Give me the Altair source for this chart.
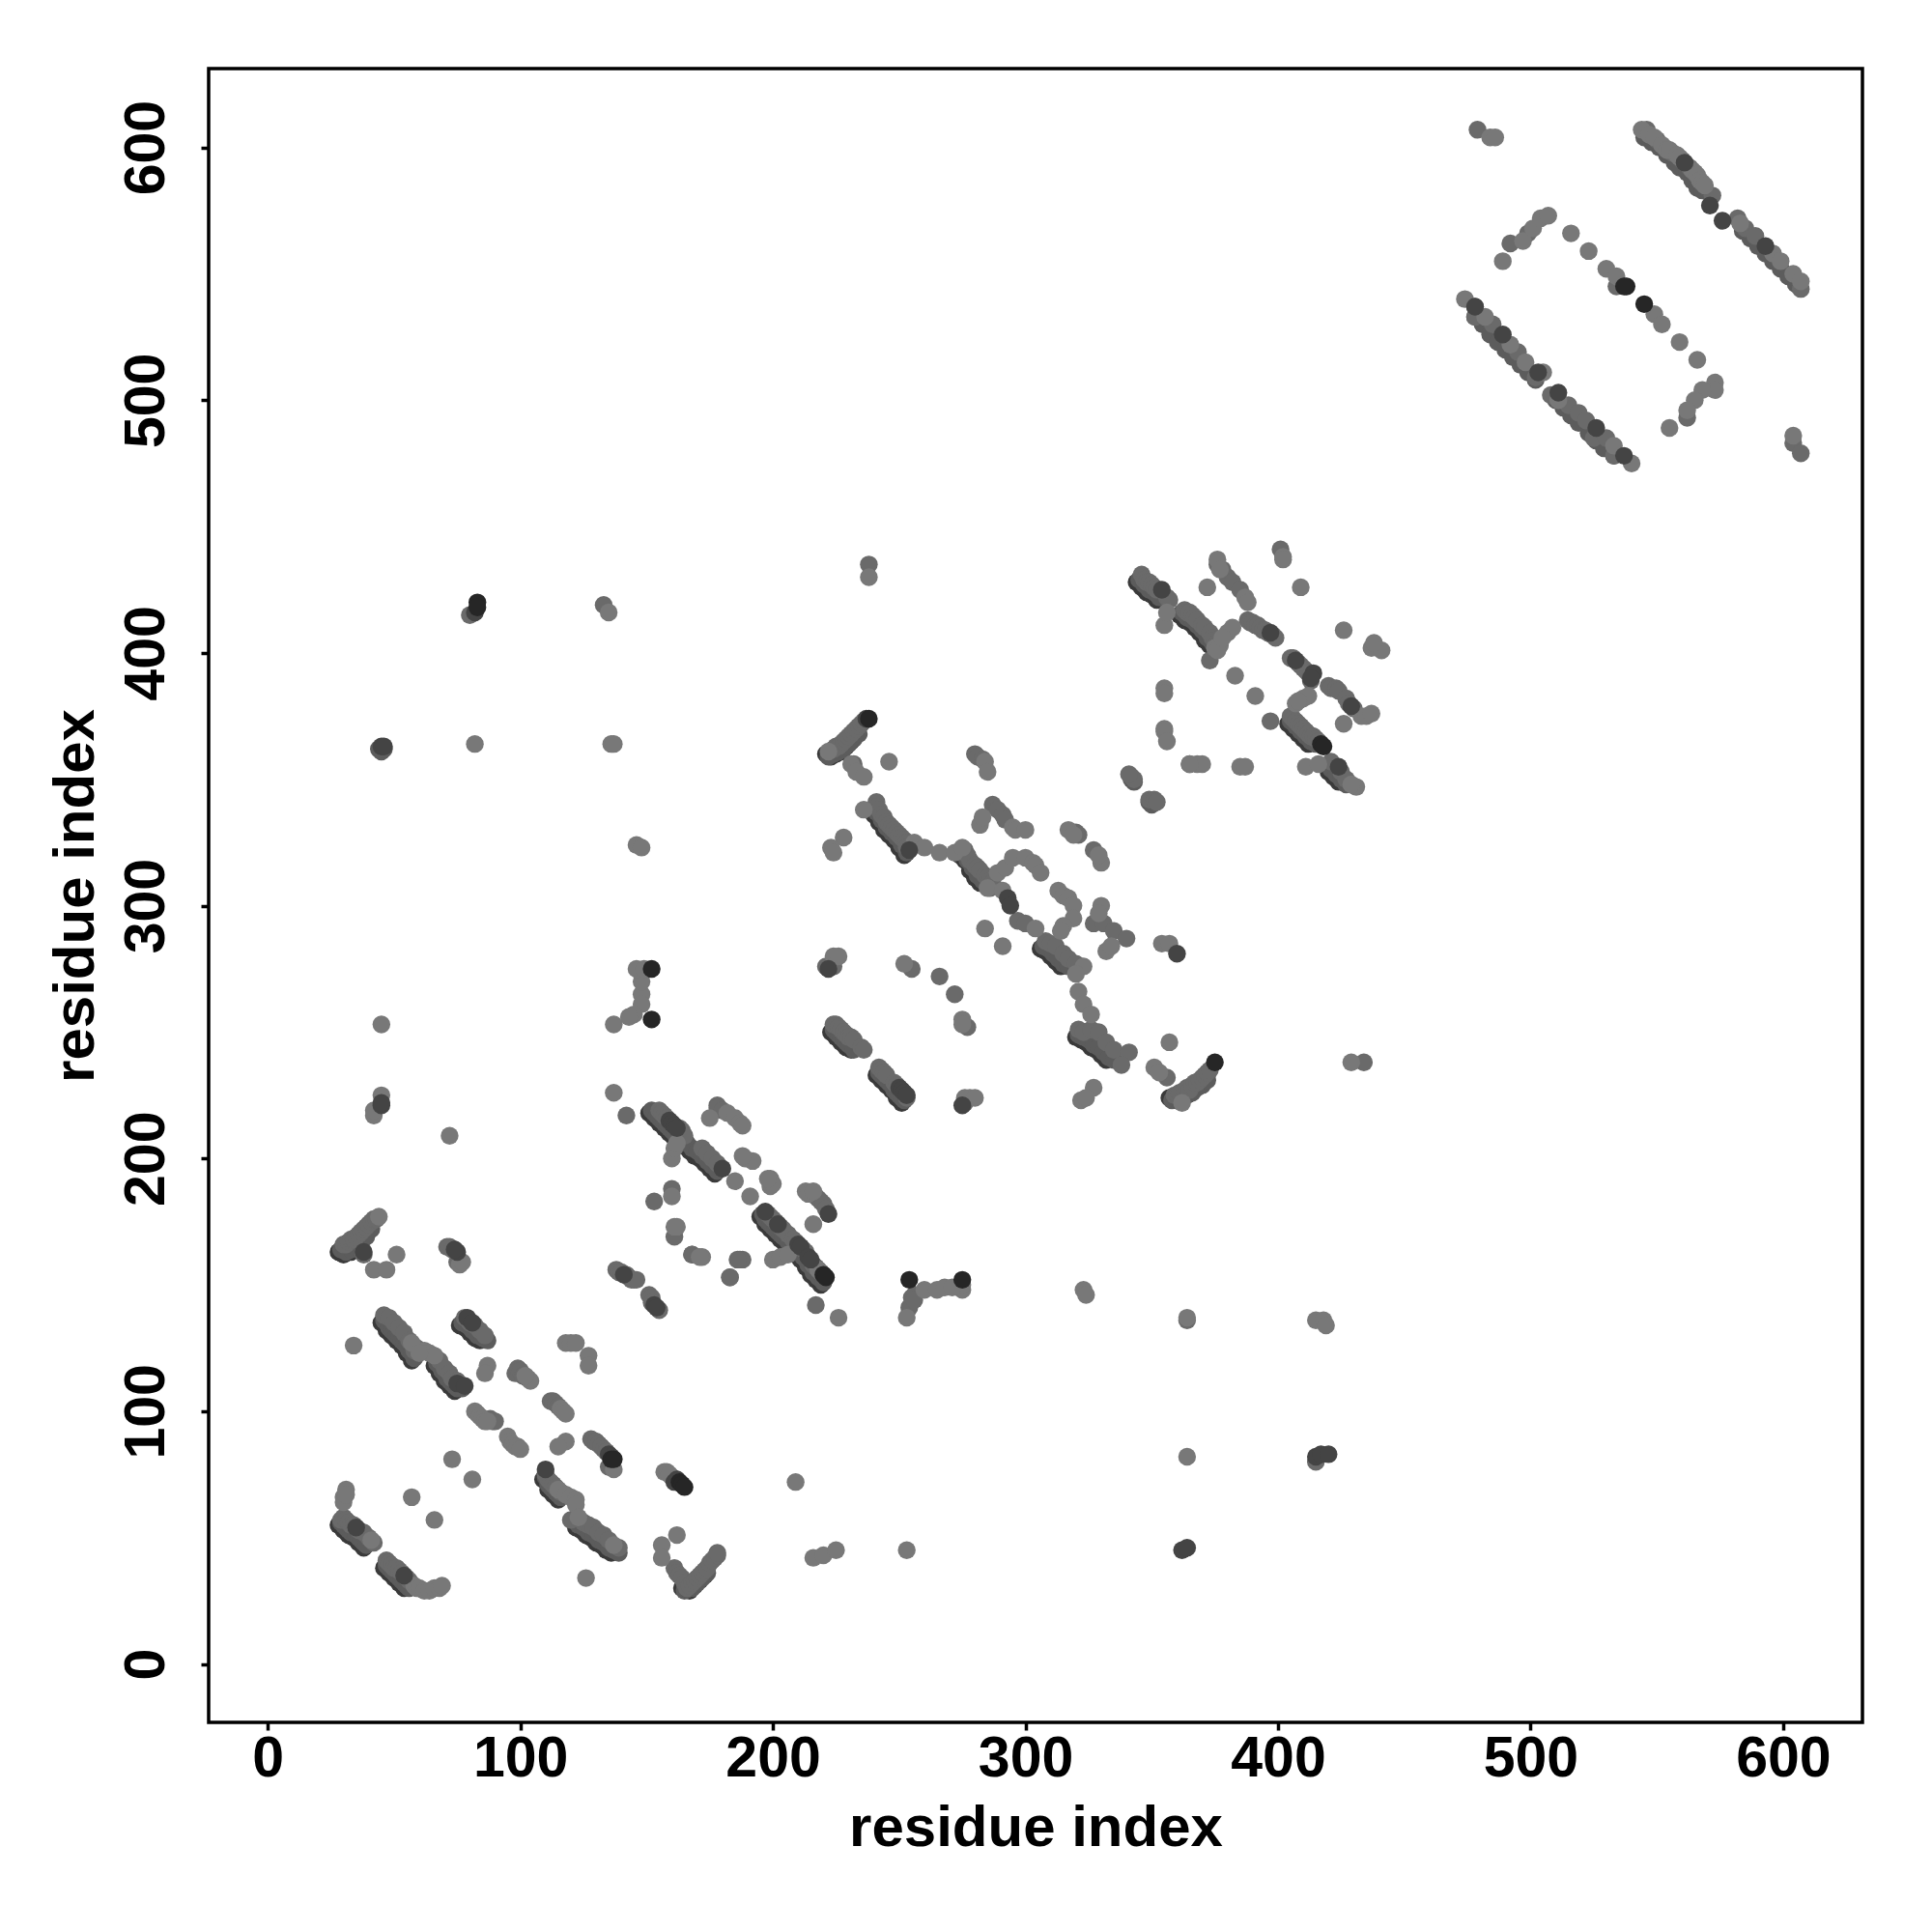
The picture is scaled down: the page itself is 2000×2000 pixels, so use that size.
import altair as alt
import pandas as pd

edge_points = [
(45,135),(47,132),(49,130),(51,128),(53,126),(55,123),(57,120),
(66,118),(68,115),(70,112),(72,110),(74,108),
(122,54),(124,53),(126,51),(128,50),(130,48),(132,47),(134,45),(136,44),
(109,73),(111,69),(113,67),(115,65),
(28,55),(30,53),(32,51),(34,50),(36,48),(38,46),
(46,38),(48,36),(50,34),(52,32),(54,30),
(76,134),(78,133),(80,131),(82,129),(84,128),
(28,163),(30,162),(33,163),(36,166),
(151,218),(153,216),(155,214),(157,212),(159,210),(161,208),(163,207),(165,205),(167,203),(169,201),(171,200),(173,198),(175,196),(177,194),
(195,177),(197,174),(199,172),(201,170),(203,168),(205,166),(207,164),(209,162),(211,160),(213,157),(215,154),(217,152),(219,150),
(223,250),(225,248),(227,246),(229,244),(231,243),
(241,233),(243,231),(245,229),(247,227),(249,224),(251,222),
(240,336),(242,333),(244,330),(246,328),(248,326),(250,323),(252,320),
(274,320),(276,318),(278,314),(280,311),(282,309),
(306,283),(308,282),(310,280),(312,278),(314,276),
(320,248),(322,247),(324,246),(326,244),(328,243),(330,241),(332,239),
(344,428),(346,426),(348,424),(350,423),(352,421),
(361,415),(363,413),(365,412),(367,410),(369,408),(371,405),(373,403),
(404,372),(406,370),(408,368),(410,366),(412,364),
(420,353),(422,351),(424,349),
(221,360),(223,359),(225,360),(227,361),(229,363),(231,365),
(357,224),(359,224),(361,225),(363,226),(365,227),(367,229),(369,230),
(164,30),(167,29),(169,31),(171,33),(173,35),
]

under_points = [
(46,136),(47,135),(48,133),(49,132),(50,131),(51,130),(52,129),(53,128),(54,127),(55,126),(56,124),(57,123),(58,121),
(67,119),(68,118),(69,116),(70,115),(71,113),(72,112),(73,111),(74,110),(75,109),(77,109),
(123,55),(125,54),(127,52),(129,51),(131,49),(133,48),(135,46),(137,45),(139,44),
(110,74),(111,71),(112,70),(113,69),(114,68),(115,67),(116,66),
(29,56),(30,55),(31,54),(32,53),(33,52),(34,52),(35,51),(36,50),(37,49),(38,48),(39,47),
(47,39),(48,38),(49,37),(50,36),(51,35),(52,34),(53,33),(54,32),(55,31),(56,30),
(77,135),(79,134),(81,132),(83,130),(85,129),(87,128),
(29,164),(31,163),(33,164),(35,165),(37,167),(39,169),(41,172),
(152,219),(153,218),(154,217),(155,216),(156,215),(157,214),(158,213),(159,212),(160,211),(161,210),(162,209),(164,208),(166,206),(168,204),(170,203),(172,201),(174,199),(176,197),(178,195),
(196,178),(197,176),(198,175),(199,174),(200,173),(201,172),(202,171),(203,170),(204,169),(206,167),(208,165),(210,163),(212,161),(214,158),(216,155),(218,153),(220,151),
(224,251),(225,250),(226,249),(227,248),(228,247),(229,246),(230,245),(232,243),
(242,234),(243,233),(244,232),(245,231),(246,230),(247,229),(248,227),(249,226),(250,225),(251,224),(252,223),
(241,337),(243,334),(245,331),(247,329),(249,327),(251,324),(253,321),
(275,321),(277,318),(279,315),(281,312),(283,310),(285,308),
(307,284),(309,283),(311,281),(313,279),(315,277),(317,276),
(321,249),(323,248),(325,247),(327,245),(329,244),(331,242),(333,240),(335,239),
(345,429),(347,427),(349,425),(351,424),(353,422),
(362,416),(364,414),(366,413),(368,411),(370,409),(372,406),(374,404),
(405,373),(407,371),(409,369),(411,367),(413,365),(415,364),
(421,354),(423,352),(425,350),(427,348),
(222,359),(224,360),(226,361),(228,362),(230,364),(232,366),(234,368),
(358,223),(360,223),(362,224),(364,225),(366,226),(368,228),(370,229),(372,231),
(165,29),(166,30),(168,30),(170,32),(172,34),(174,36),
(545,604),(548,602),(551,600),(554,597),(557,594),(559,592),(562,590),(564,587),(566,584),(568,583),
(584,567),(587,564),(590,561),(593,558),(596,555),(599,552),(602,549),(605,546),
(478,533),(481,530),(484,526),(487,523),(490,520),(493,517),(496,514),(499,511),(502,508),
(510,500),(513,497),(516,494),(519,491),(523,487),(526,484),(529,481),(533,478),
(44,362),(45,361),(46,362),
(342,350),(343,349),(349,341),(350,340),
]

mid_points = [
(30,166),(31,166),(32,167),(33,168),(34,168),(35,169),(36,170),(37,171),(38,172),(39,173),(40,174),(41,175),(42,176),(43,176),
(38,162),(71,165),(72,165),(73,164),(75,159),
(46,138),(48,137),(50,135),(52,133),(54,131),(56,128),(58,124),(59,125),
(68,120),(70,117),(72,115),(73,113),(75,112),
(78,137),(80,135),(82,134),(84,132),(86,130),
(98,115),(99,117),(100,116),(101,114),(103,113),
(88,97),(89,96),(90,96),
(112,104),(113,104),(114,103),(115,102),
(128,89),(129,88),(130,88),(131,87),(132,86),(133,85),(134,84),(135,78),
(110,75),(111,73),(112,72),(113,71),(114,70),(116,68),
(120,57),(125,56),(127,55),(129,54),(131,52),(133,51),(135,49),(139,46),
(29,57),(30,58),(31,57),(32,56),(33,55),(34,55),(36,53),(38,52),(40,50),(42,48),
(47,41),(48,40),(49,39),(50,38),(51,38),(52,37),(53,36),(55,34),(56,33),
(160,74),(161,38),(161,169),(162,36),(163,35),(164,34),(165,32),(166,30),(167,31),(168,32),(169,33),(170,34),(171,35),(172,36),(173,37),(174,38),(175,40),(176,41),(177,42),(178,43),(178,44),
(168,162),(187,160),(183,153),
(138,156),(139,155),(140,155),(142,154),(143,153),(144,152),(145,152),(146,152),
(151,146),(152,145),(152,143),(155,140),
(224,253),(225,253),(226,252),(227,251),(228,250),(229,249),(230,248),(231,248),(232,247),(235,244),(236,243),
(242,236),(243,235),(244,234),(245,233),(248,230),(249,229),(253,224),
(142,217),(155,219),(156,218),(157,217),(158,216),(163,212),(164,211),(165,209),(172,204),(174,202),(176,200),(178,198),
(160,188),(153,183),(178,221),(178,220),(180,219),
(217,185),(218,184),(219,183),(220,182),(221,180),
(198,178),(199,177),(200,176),(201,175),(203,173),(204,172),(206,170),(208,168),(209,167),(212,164),(213,163),(216,158),(217,157),
(168,162),(188,160),(186,160),(183,153),(217,142),
(256,146),(255,145),(254,141),(256,144),
(224,362),(225,363),(226,363),(227,364),(228,365),(229,366),(230,367),(231,368),(232,369),(233,370),(234,371),(235,372),(236,373),
(232,356),(280,360),(281,359),(283,358),
(241,341),(241,339),(242,338),(243,336),(244,335),(245,333),(246,332),(247,331),(248,330),(249,329),(250,328),(251,327),(252,326),(253,325),(253,323),
(276,322),(277,320),(278,318),(280,316),(281,315),(282,314),(284,312),(285,311),(286,310),(287,309),(286,307),
(287,340),(289,338),(291,336),(292,334),
(321,328),(320,329),(327,322),(342,351),(343,350),(341,352),(349,342),(351,342),(352,341),
(308,286),(310,285),(312,284),(315,281),(317,279),(320,277),
(297,294),(300,293),(327,293),(331,293),(335,290),(340,287),
(224,276),(221,276),(276,222),(255,275),(266,272),(272,265),(277,252),(356,232),
(321,251),(323,250),(326,251),(329,250),(332,246),(335,243),(341,242),(338,237),
(359,225),(360,225),(361,226),(363,227),(364,228),(365,227),(366,229),(367,230),(368,230),(369,231),(370,232),(371,233),(372,234),(373,235),
(346,431),(347,429),(348,428),(349,428),(350,427),(351,426),(352,425),(356,422),(357,421),
(363,417),(364,416),(365,416),(366,415),(367,414),(368,413),(370,411),(371,410),(373,408),(374,406),(375,405),(376,404),
(373,397),(397,373),
(376,435),(378,433),(380,430),(382,428),(385,425),
(388,413),(389,412),(390,412),(391,411),(392,411),(393,410),(394,409),(395,409),(396,408),(398,407),(399,406),
(405,398),(406,398),(408,396),(409,395),(410,394),(411,393),(412,392),(413,391),(413,389),
(405,375),(406,374),(407,373),(408,372),(409,371),(410,370),(411,369),(412,368),(413,367),(414,367),(415,366),(416,365),
(420,387),(421,386),(423,386),(424,385),(427,382),(428,380),(430,378),
(421,357),(425,353),(427,350),
(401,441),(479,607),(604,483),(607,479),(238,435),(434,238),(133,419),(80,415),
(478,537),(478,533),(485,530),(495,519),(502,509),(508,502),(515,498),(519,495),(522,492),(525,485),(530,485),(533,478),
(546,607),(550,603),(553,600),(556,598),(560,595),(563,592),(565,590),(572,581),
(582,572),(585,568),(589,565),(607,544),
(492,562),(499,566),(534,545),(562,493),
(415,80),(364,136),
]

light_points = [
(44,177),(42,156),(47,156),(51,162),(76,158),(77,159),(34,126),
(62,124),(64,123),(66,122),(57,127),(60,123),
(87,118),(86,115),(104,112),(102,114),
(82,100),(83,99),(84,98),(85,97),(86,96),(87,96),
(95,90),(96,88),(97,87),(98,86),(99,86),(100,85),
(116,101),(117,100),(118,99),(118,88),(115,86),
(118,127),(120,127),(122,127),(127,122),(127,118),(137,77),
(115,69),(118,67),(120,66),(122,65),(122,63),
(123,58),(137,47),(126,34),(73,81),(81,73),(57,66),(66,57),
(31,69),(30,66),(30,64),(31,67),(41,49),
(58,31),(59,30),(60,30),(62,29),(64,29),(66,30),(68,30),(69,31),
(157,76),(158,76),(159,75),(162,51),(156,47),(156,42),
(161,173),(162,173),(172,161),(171,161),
(137,226),(160,200),(161,204),(162,206),(175,216),(182,218),(185,216),(187,214),(188,213),
(189,200),(192,199),(188,201),(185,191),(191,185),(199,192),(199,189),(200,190),(198,192),
(213,187),(214,186),(216,187),(216,174),
(200,160),(203,161),(206,162),(160,185),
(219,155),(218,156),(226,137),(253,137),(275,148),(275,150),(260,148),(265,148),(268,149),(271,149),
(275,255),(275,253),(276,224),(278,224),(280,224),
(222,361),(231,356),(233,353),(236,351),(246,357),(284,357),(285,353),
(236,338),(256,325),(260,323),(266,321),(228,327),(223,323),(224,321),
(272,321),(275,323),(285,307),(291,306),
(282,332),(283,335),(295,331),(296,330),(300,330),
(289,313),(292,315),(295,319),(300,319),(303,317),(304,316),(306,313),
(317,330),(319,328),(330,317),(329,320),
(313,306),(315,304),(317,303),(319,300),(319,295),(315,292),(314,290),(304,291),
(323,276),(320,273),(284,291),(291,284),
(330,300),(329,297),(332,282),(334,284),
(355,386),(355,384),(355,370),(355,369),(356,365),(365,356),(368,356),(370,356),
(354,285),(357,285),(224,280),(226,280),
(252,277),(321,266),(323,261),(326,257),(357,246),(351,236),(353,234),(327,228),(322,223),(324,224),
(355,411),(356,416),(362,222),(375,402),(377,403),(376,401),
(380,408),(382,410),(378,406),(383,391),(391,383),
(376,437),(377,433),(372,426),(387,422),(388,420),
(410,382),(407,380),(412,383),(408,381),
(426,372),(433,375),(435,375),(437,376),(411,355),(416,356),(431,347),(429,348),
(365,356),(385,355),(387,355),
(402,438),(402,437),(409,426),(426,409),(437,402),(441,401),(438,404),
(238,430),(82,364),(136,364),(137,364),(146,324),(148,323),(135,416),
(137,253),(148,265),(148,270),(146,275),(149,275),(148,261),(145,257),(143,256),
(45,253),(45,225),(42,217),(42,219),(72,209),
(216,42),(220,43),(225,45),(253,45),(209,72),(429,238),
(323,148),(324,146),(364,137),(364,82),(415,136),(418,136),(419,134),
(484,604),(486,604),
(544,607),(547,605),(549,604),(552,601),(554,599),(555,599),(558,597),(559,596),(564,591),(566,589),(567,587),(568,586),(569,585),
(583,570),(596,558),(599,555),(604,550),(607,547),
(474,540),(482,533),(492,522),(498,515),(511,500),(533,482),(540,475),(505,511),
(489,555),(497,563),(501,568),(504,572),(507,573),
(516,566),(523,559),(530,552),(534,549),(549,534),(552,530),(559,523),(566,516),
(573,507),(573,504),(568,504),(565,500),(562,496),(555,489),(604,486),
]

dark_points = [
(38,163),(75,163),(79,137),(81,135),(135,83),(136,82),(110,77),(35,54),(54,35),
(161,72),(162,73),(141,154),(153,142),(154,141),
(159,215),(160,214),(161,213),(162,212),(180,196),(222,178),
(197,179),(202,174),(210,166),(211,165),(214,161),(215,160),
(75,111),(78,110),(74,164),
(237,374),(293,303),(294,300),(360,281),(275,221),
(250,228),(251,227),(252,226),(253,225),(254,322),(222,275),(45,221),(45,222),
(362,45),(364,46),(415,82),(417,83),(420,83),
(354,425),(397,408),(407,397),(429,379),(424,355),(414,392),(413,390),
(478,537),(489,526),(503,511),(511,503),(526,489),(537,478),
(561,594),(571,577),(576,571),(593,561),
(45,363),(46,363),(82,416),
]

black_points = [
(136,81),(137,81),(163,72),(164,71),(165,70),(152,275),(152,255),
(220,154),(221,153),(254,152),(275,152),(238,374),
(375,238),(83,420),(83,418),(417,364),(418,363),
(538,545),(537,545),(545,538),
]

shades = ["edge", "under", "mid", "light", "dark", "black"]
shade_colors = ["#3a3a3a", "#5c5c5c", "#6a6a6a", "#787878", "#444444", "#262626"]
groups = [edge_points, under_points, mid_points, light_points, dark_points, black_points]

rows = []
for name, pts in zip(shades, groups):
    for x, y in pts:
        rows.append({"x": x, "y": y, "shade": name, "n": len(rows)})
df = pd.DataFrame(rows)

ticks = [0, 100, 200, 300, 400, 500, 600]

def ax(title, extra):
    return alt.Axis(title=title, values=ticks, grid=False, domain=False, ticks=True,
                    tickColor="black", tickWidth=3.5, tickSize=8,
                    labelFont="Liberation Sans", labelFontWeight="bold", labelFontSize=59,
                    labelColor="black", titleFont="Liberation Sans", titleFontWeight="bold",
                    titleFontSize=60, titleColor="black", format="d", **extra)

chart = (
    alt.Chart(df)
    .mark_circle(size=339, opacity=1)
    .encode(
        x=alt.X("x:Q", scale=alt.Scale(domain=[-23.4, 631.4], nice=False, zero=False),
                axis=ax("residue index", dict(labelPadding=0, titlePadding=13))),
        y=alt.Y("y:Q", scale=alt.Scale(domain=[-23.1, 631.2], nice=False, zero=False),
                axis=ax("residue index", dict(labelAngle=-90, labelAlign="center",
                        labelBaseline="bottom", labelPadding=27, titlePadding=13))),
        color=alt.Color("shade:N", scale=alt.Scale(domain=shades, range=shade_colors), legend=None),
        order=alt.Order("n:Q"),
    )
    .properties(width=1712, height=1712, background="white",
                padding={"left": 40, "top": 63, "right": 10, "bottom": 10})
    .configure_view(stroke="black", strokeWidth=3.5, fill="white")
)

chart.save("out.html", embed_options={"renderer": "svg", "actions": False})
